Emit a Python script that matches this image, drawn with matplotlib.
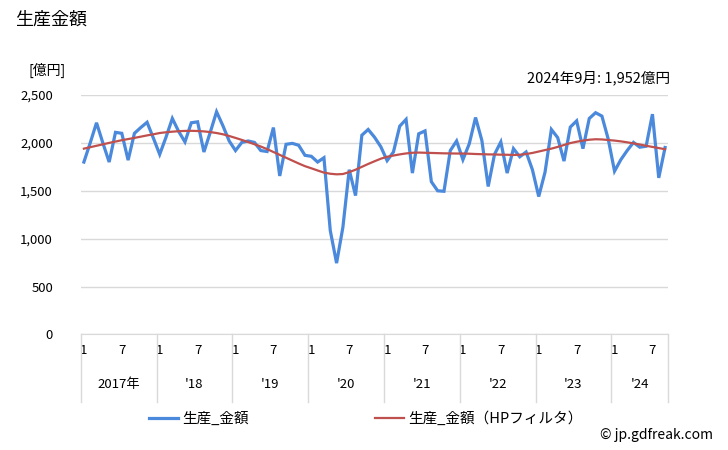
import numpy as np
import matplotlib
matplotlib.use("Agg")
import matplotlib.pyplot as plt
from matplotlib.lines import Line2D

plt.rcParams['font.family'] = ['Noto Sans CJK JP', 'DejaVu Sans']

#%% data (monthly, Jan 2017 - Sep 2024), 億円

years = ['2017年', "'18", "'19", "'20", "'21", "'22", "'23", "'24"]

production = [
    1800, 2000, 2210, 2000, 1800, 2110, 2100, 1820, 2100, 2160, 2215, 2050,   # 2017
    1880, 2060, 2255, 2120, 2010, 2210, 2220, 1905, 2110, 2325, 2180, 2020,   # 2018
    1920, 2005, 2020, 2005, 1920, 1910, 2160, 1655, 1985, 1995, 1975, 1870,   # 2019
    1860, 1800, 1845, 1085, 745, 1120, 1720, 1450, 2080, 2140, 2060, 1960,    # 2020
    1815, 1905, 2175, 2245, 1685, 2095, 2125, 1595, 1500, 1495, 1920, 2020,   # 2021
    1825, 1990, 2265, 2025, 1545, 1880, 2010, 1685, 1940, 1855, 1905, 1720,   # 2022
    1440, 1695, 2140, 2055, 1810, 2165, 2230, 1940, 2255, 2315, 2280, 2040,   # 2023
    1705, 1825, 1920, 2005, 1955, 1965, 2300, 1635, 1952,                     # 2024
]

hp_trend = [
    1940, 1955, 1970, 1985, 2000, 2014, 2028, 2040, 2052, 2065, 2078, 2090,
    2103, 2111, 2117, 2122, 2125, 2126, 2124, 2120, 2113, 2103, 2090, 2072,
    2052, 2031, 2009, 1986, 1962, 1935, 1905, 1875, 1845, 1815, 1785, 1757,
    1735, 1712, 1690, 1678, 1672, 1675, 1695, 1720, 1750, 1780, 1808, 1835,
    1855, 1868, 1880, 1890, 1897, 1899, 1897, 1895, 1893, 1891, 1890, 1889,
    1889, 1887, 1884, 1882, 1880, 1879, 1877, 1876, 1874, 1876, 1884, 1895,
    1910, 1925, 1940, 1958, 1978, 1998, 2012, 2024, 2033, 2038, 2036, 2030,
    2024, 2016, 2006, 1995, 1983, 1970, 1958, 1946, 1934,
]

n = len(production)
x = np.arange(n)
blue = '#4a89dc'
red = '#c0504d'
grid_c = '#d9d9d9'

#%% figure

fig = plt.figure(figsize=(7.28, 4.5), dpi=100)
ax = fig.add_axes([0.1109, 0.2567, 0.807, 0.5322])

ax.plot(x, production, color=blue, lw=2.3, solid_joinstyle='miter', zorder=3)
ax.plot(x, hp_trend, color=red, lw=1.6, zorder=4)

ax.set_xlim(-0.5, n - 0.5)
ax.set_ylim(0, 2500)
ax.set_yticks(np.arange(0, 2501, 500))
ax.set_yticklabels([f'{v:,}' for v in range(0, 2501, 500)], fontsize=9.5)
ax.yaxis.grid(True, color=grid_c, lw=1)
ax.set_axisbelow(True)
ax.tick_params(axis='y', length=0, pad=20)
for s in ['left', 'right', 'top']:
    ax.spines[s].set_visible(False)
ax.spines['bottom'].set_color(grid_c)

# month ticks: 1 and 7 of each year
mpos = [i for i in range(n) if i % 12 in (0, 6)]
ax.set_xticks(mpos)
ax.set_xticklabels(['1' if i % 12 == 0 else '7' for i in mpos], fontsize=9.5)
ax.tick_params(axis='x', length=0, pad=7)

# year separators and labels
trans = ax.get_xaxis_transform()
bounds = list(np.arange(-0.5, n, 12)) + [n - 0.5]
for b in bounds:
    ax.plot([b, b], [0, -0.28], color=grid_c, lw=1, transform=trans, clip_on=False)
for k, lab in enumerate(years):
    lo = bounds[k]
    hi = bounds[k + 1]
    ax.text((lo + hi) / 2, -0.21, lab, transform=trans, ha='center', va='center', fontsize=9.5)

# texts
fig.text(15 / 728, 1 - 20 / 450, '生産金額', fontsize=13, va='center', ha='left')
fig.text(28 / 728, 1 - 70 / 450, '[億円]', fontsize=10, va='center', ha='left')
fig.text(670 / 728, 1 - 78 / 450, '2024年9月: 1,952億円', fontsize=10.5, va='center', ha='right')
fig.text(713 / 728, 1 - 435 / 450, '© jp.gdfreak.com', fontsize=10, va='center', ha='right')

handles = [Line2D([], [], color=blue, lw=2.3), Line2D([], [], color=red, lw=1.6)]
fig.legend(handles, ['生産_金額', '生産_金額（HPフィルタ）'], ncol=2, frameon=False,
           loc='center left', bbox_to_anchor=(136 / 728, 1 - 419 / 450),
           fontsize=10.5, handlelength=2.0, handletextpad=0.3, columnspacing=8.6)

fig.savefig('out.png', dpi=100)
